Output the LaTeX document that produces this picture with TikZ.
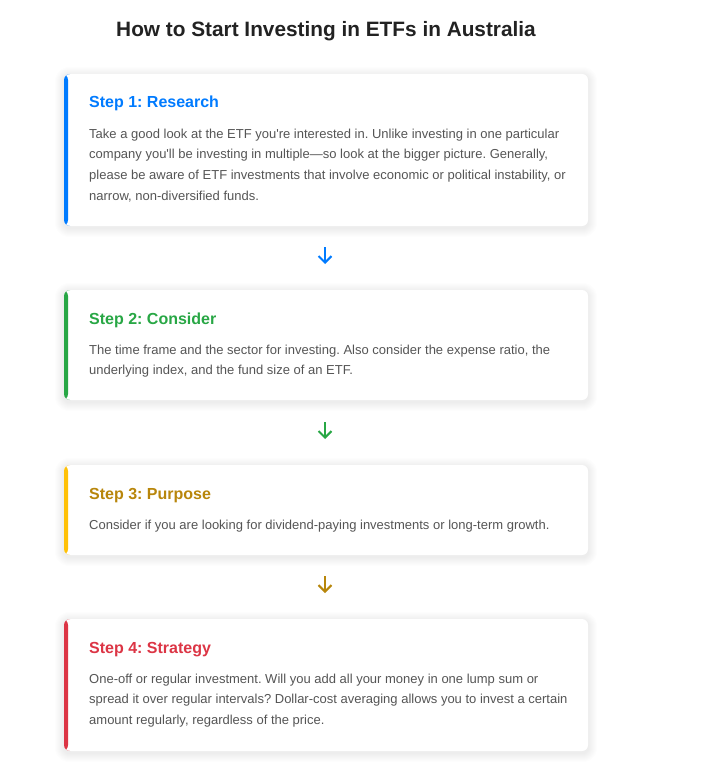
\documentclass[tikz,border=0pt]{standalone}
\usepackage{fontspec}
\setmainfont{Liberation Sans}[Ligatures=TeXOff]
\usetikzlibrary{arrows.meta,backgrounds}
\frenchspacing

\definecolor{cblue}{HTML}{007BFF}
\definecolor{cgreen}{HTML}{28A745}
\definecolor{cyellow}{HTML}{FFC107}
\definecolor{cgold}{HTML}{B8860B}
\definecolor{cred}{HTML}{DC3545}
\definecolor{ctitle}{HTML}{222222}
\definecolor{ctext}{HTML}{555555}

\tikzset{
  stepcard/.style={rectangle, fill=white, rounded corners=6pt, minimum width=524pt, inner sep=0pt,
    path picture={\fill[#1] (path picture bounding box.north west) rectangle ([xshift=4pt]path picture bounding box.south west);}},
  heading/.style={anchor=base west, inner sep=0pt, font=\fontsize{16}{19}\selectfont\bfseries},
  bodytext/.style={anchor=north west, inner sep=0pt, align=left, text=ctext, font=\fontsize{13}{20.8}\selectfont},
  steparrow/.style={line width=2pt, -{Straight Barb[length=6.5pt,width=13pt]}}
}

\begin{document}
\begin{tikzpicture}[x=1pt,y=-1pt]
			\useasboundingbox (0,0) rectangle (714,765);
			\node[anchor=base, inner sep=0pt, text=ctitle, font=\fontsize{20.8}{25}\selectfont\bfseries] (title) at (326,37) {How to Start Investing in ETFs in Australia};
			
			% step 1
			\node[stepcard=cblue, minimum height=152pt] (s1) at (326,150) {};
			\node[heading, text=cblue] (h1) at (89,108) {Step 1: Research};
			\node[bodytext] (b1) at (89,128.5) {Take a good look at the ETF you're interested in. Unlike investing in one particular\\company you'll be investing in multiple—so look at the bigger picture. Generally,\\please be aware of ETF investments that involve economic or political instability, or\\narrow, non-diversified funds.};
			
			% step 2
			\node[stepcard=cgreen, minimum height=110pt] (s2) at (326,345) {};
			\node[heading, text=cgreen] (h2) at (89,324) {Step 2: Consider};
			\node[bodytext] (b2) at (89,344.5) {The time frame and the sector for investing. Also consider the expense ratio, the\\underlying index, and the fund size of an ETF.};
			
			% step 3
			\node[stepcard=cyellow, minimum height=90pt] (s3) at (326,510) {};
			\node[heading, text=cgold] (h3) at (89,499) {Step 3: Purpose};
			\node[bodytext, anchor=base west] (b3) at (89,529) {Consider if you are looking for dividend-paying investments or long-term growth.};
			
			% step 4
			\node[stepcard=cred, minimum height=132pt] (s4) at (326,685) {};
			\node[heading, text=cred] (h4) at (89,653) {Step 4: Strategy};
			\node[bodytext] (b4) at (89,673.5) {One-off or regular investment. Will you add all your money in one lump sum or\\spread it over regular intervals? Dollar-cost averaging allows you to invest a certain\\amount regularly, regardless of the price.};
			
			% arrows between the steps
			\coordinate (a1s) at (325,247); \coordinate (a1e) at (325,264);
			\coordinate (a2s) at (325,422); \coordinate (a2e) at (325,439);
			\coordinate (a3s) at (325,576); \coordinate (a3e) at (325,593);
			\draw[steparrow, cblue] (a1s) -- (a1e);
			\draw[steparrow, cgreen] (a2s) -- (a2e);
			\draw[steparrow, cgold] (a3s) -- (a3e);
			
			% page and soft shadows
			\begin{scope}[on background layer]
			\fill[white] (0,0) rectangle (714,765);
			\foreach \s in {s1,s2,s3,s4}
			  \foreach \g in {1,...,9}
			    \fill[black, opacity=.007, rounded corners=6pt+\g pt] ([xshift=-\g pt, yshift=\g pt-2pt]\s.north west) rectangle ([xshift=\g pt, yshift=-\g pt-2pt]\s.south east);
			\end{scope}
\end{tikzpicture}
\end{document}
